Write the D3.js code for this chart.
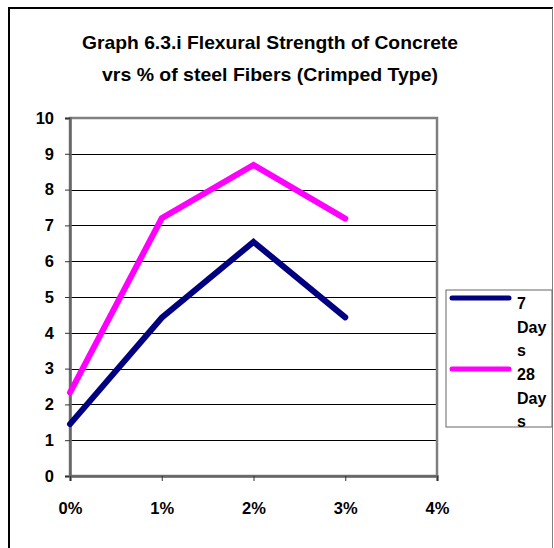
<!DOCTYPE html>
<html>
<head>
<meta charset="utf-8">
<script src="https://cdn.jsdelivr.net/npm/d3@7"></script>
<style>
  body { margin: 0; background: #fff; }
  svg text { font-family: "Liberation Sans", Arial, sans-serif; font-weight: bold; }
</style>
</head>
<body>
<div id="chart"></div>
<script>
var categories = ["0%", "1%", "2%", "3%"];
var xTicks = ["0%", "1%", "2%", "3%", "4%"];
var days7 = [1.45, 4.42, 6.54, 4.43];
var days28 = [2.33, 7.2, 8.69, 7.19];
var yTicks = [0, 1, 2, 3, 4, 5, 6, 7, 8, 9, 10];
var seriesNames = [["7", "Day", "s"], ["28", "Day", "s"]];
var seriesColors = ["#000080", "#ff00ff"];

var W = 554, H = 548;
var margin = { top: 118, right: 117, bottom: 72, left: 70 },
    width = W - margin.left - margin.right,
    height = H - margin.top - margin.bottom;

var svg = d3.select("#chart").append("svg")
    .attr("width", W)
    .attr("height", H);

// outer frame
svg.append("line").attr("x1", 8).attr("x2", 553).attr("y1", 8).attr("y2", 8)
    .attr("stroke", "#000").attr("stroke-width", 2);
svg.append("line").attr("x1", 9).attr("x2", 9).attr("y1", 8).attr("y2", H)
    .attr("stroke", "#000").attr("stroke-width", 2);
svg.append("line").attr("x1", 552.5).attr("x2", 552.5).attr("y1", 8).attr("y2", H)
    .attr("stroke", "#808080").attr("stroke-width", 1);

// title
var title = svg.append("text")
    .attr("text-anchor", "middle")
    .style("font-size", "19px")
    .attr("fill", "#000");
title.append("tspan").attr("x", 270).attr("y", 49)
    .attr("textLength", 376).attr("lengthAdjust", "spacingAndGlyphs")
    .text("Graph 6.3.i  Flexural Strength of Concrete");
title.append("tspan").attr("x", 270).attr("y", 81)
    .attr("textLength", 336).attr("lengthAdjust", "spacingAndGlyphs")
    .text("vrs % of steel Fibers (Crimped Type)");

var g = svg.append("g")
    .attr("transform", "translate(" + margin.left + "," + margin.top + ")");

var x = d3.scalePoint()
    .domain(xTicks)
    .range([0, width]);

var y = d3.scaleLinear()
    .domain([0, 10])
    .range([height, 0]);

// gridlines
g.append("g")
    .selectAll("line")
    .data(yTicks.slice(1))
    .enter().append("line")
    .attr("x1", 0).attr("x2", width)
    .attr("y1", function (d) { return Math.round(y(d)) + 0.5; })
    .attr("y2", function (d) { return Math.round(y(d)) + 0.5; })
    .attr("stroke", "#000")
    .attr("stroke-width", 1);

// plot border
g.append("rect")
    .attr("x", 0).attr("y", 0)
    .attr("width", width).attr("height", height)
    .attr("fill", "none")
    .attr("stroke", "#808080")
    .attr("stroke-width", 2.5);

// axes
var yAxis = g.append("g")
    .call(d3.axisLeft(y).tickValues(yTicks).tickSize(5).tickPadding(11));
var xAxis = g.append("g")
    .attr("transform", "translate(0," + height + ")")
    .call(d3.axisBottom(x).tickSize(5).tickPadding(21));

[yAxis, xAxis].forEach(function (a) {
    a.attr("font-size", null).attr("font-family", null);
    a.select(".domain").attr("stroke", "#666").attr("stroke-width", 2.5);
    a.selectAll(".tick line").attr("stroke", "#333");
    a.selectAll("text").style("font-size", "16.5px").attr("fill", "#000");
});

// lines
var line = d3.line()
    .x(function (d, i) { return x(categories[i]); })
    .y(function (d) { return y(d); });

[days7, days28].forEach(function (s, i) {
    g.append("path")
        .datum(s)
        .attr("fill", "none")
        .attr("stroke", seriesColors[i])
        .attr("stroke-width", 6)
        .attr("stroke-linecap", "round")
        .attr("stroke-linejoin", "miter")
        .attr("d", line);
});

// legend
var leg = svg.append("g");
leg.append("rect")
    .attr("x", 446).attr("y", 290)
    .attr("width", 106).attr("height", 137)
    .attr("fill", "#fff")
    .attr("stroke", "#666")
    .attr("stroke-width", 1);

var clip = svg.append("clipPath").attr("id", "legclip");
clip.append("rect").attr("x", 446).attr("y", 290).attr("width", 106).attr("height", 137);

var legItems = leg.append("g").attr("clip-path", "url(#legclip)");
seriesNames.forEach(function (name, i) {
    var y0 = 298 + i * 71;
    legItems.append("line")
        .attr("x1", 452).attr("x2", 509)
        .attr("y1", y0).attr("y2", y0)
        .attr("stroke", seriesColors[i])
        .attr("stroke-width", 5)
        .attr("stroke-linecap", "round");
    name.forEach(function (t, j) {
        legItems.append("text")
            .attr("x", 517)
            .attr("y", y0 + 11 + j * 23.5)
            .style("font-size", "16px")
            .attr("fill", "#000")
            .text(t);
    });
});
</script>
</body>
</html>
